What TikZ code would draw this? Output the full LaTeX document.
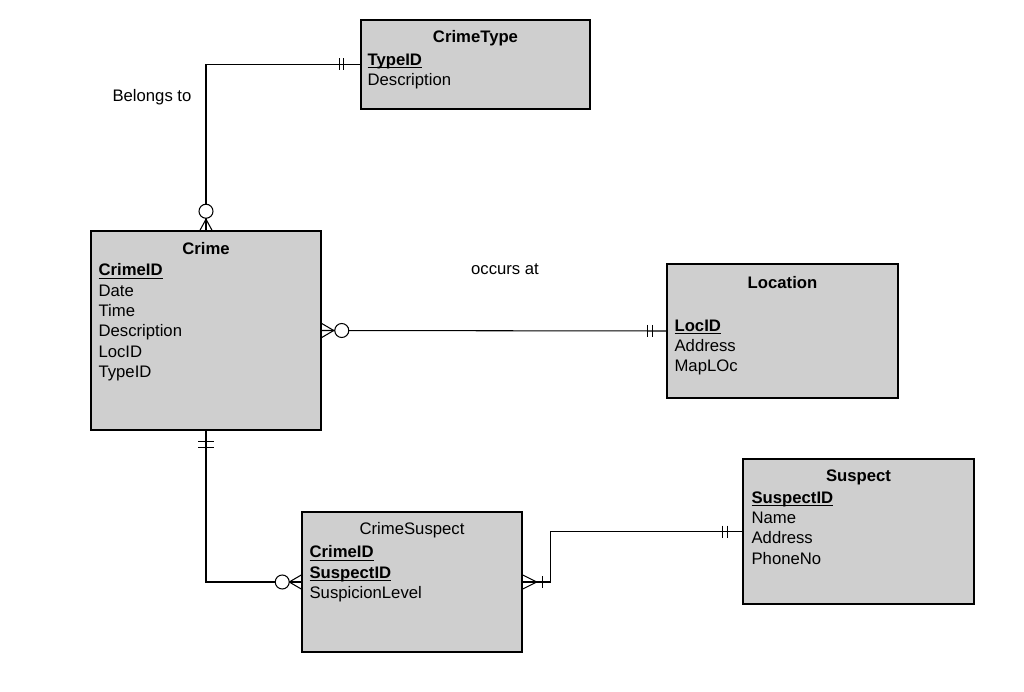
\documentclass[tikz,border=0pt]{standalone}
\usepackage{fontspec}
\setmainfont{Liberation Sans}
\usetikzlibrary{positioning,calc}

\tikzset{
  entity/.style={draw, line width=0.9pt, fill=black!19, inner sep=0pt},
  etitle/.style={inner sep=0pt, font=\fontsize{9.5}{11.6}\selectfont\bfseries},
  attrs/.style={anchor=north west, inner sep=0pt, align=left, font=\fontsize{9.5}{11.6}\selectfont},
  rel/.style={line width=0.6pt},
  lbl/.style={inner sep=0pt, font=\fontsize{9.5}{11.6}\selectfont},
}
\newcommand{\ekey}[1]{\underline{\raisebox{0pt}[\height][0pt]{\textbf{#1}}}}

\begin{document}
\begin{tikzpicture}[x=0.02cm,y=-0.02cm]
\useasboundingbox (0,0) rectangle (1024,692);
% entities
\node[entity, minimum width=4.58cm, minimum height=1.78cm] (crimetype) at (475.5,64.5) {};
\node[etitle] at ([shift={(0,19)}]crimetype.north) {CrimeType};
\node[attrs] at ([shift={(7,34)}]crimetype.north west) {\ekey{TypeID}\\Description};

\node[entity, minimum width=4.60cm, minimum height=3.98cm] (crime) at (206,330.5) {};
\node[etitle] at ([shift={(0,18)}]crime.north) {Crime};
\node[attrs] at ([shift={(8,33)}]crime.north west) {\ekey{CrimeID}\\Date\\Time\\Description\\LocID\\TypeID};

\node[entity, minimum width=4.62cm, minimum height=2.68cm] (location) at (782.5,331) {};
\node[etitle] at ([shift={(0,19)}]location.north) {Location};
\node[attrs] at ([shift={(8,56)}]location.north west) {\ekey{LocID}\\Address\\MapLOc};

\node[entity, minimum width=4.62cm, minimum height=2.90cm] (suspect) at (858.5,531.5) {};
\node[etitle] at ([shift={(0,19)}]suspect.north) {Suspect};
\node[attrs] at ([shift={(9,33)}]suspect.north west) {\ekey{SuspectID}\\Name\\Address\\PhoneNo};

\node[entity, minimum width=4.40cm, minimum height=2.80cm] (crimesuspect) at (412,582) {};
\node[etitle, font=\fontsize{9.5}{11.6}\selectfont] at ([shift={(0,19)}]crimesuspect.north) {CrimeSuspect};
\node[attrs] at ([shift={(8,34)}]crimesuspect.north west) {\ekey{CrimeID}\\\ekey{SuspectID}\\SuspicionLevel};

% relationship labels
\node[lbl] (belongs) at (152,97) {Belongs to};
\node[lbl] (occurs) at (505,269) {occurs at};

% crime -- crimetype
\draw[rel] (crime.north) |- (crimetype.west);
\foreach \d in {-21,-17}
  \draw[rel] ([shift={(\d,-6)}]crimetype.west) -- ([shift={(\d,6)}]crimetype.west);
\draw[rel] ([shift={(-6,0)}]crime.north) -- ([shift={(0,-11)}]crime.north) -- ([shift={(6,0)}]crime.north);
\draw[rel, fill=white] ([shift={(0,-19)}]crime.north) circle (0.14cm);

% crime -- location
\draw[rel] (crime.east) -- (location.west);
\draw[rel] ([shift={(0,-7)}]crime.east) -- ([shift={(12,0)}]crime.east) -- ([shift={(0,7)}]crime.east);
\draw[rel, fill=white] ([shift={(20,0)}]crime.east) circle (0.14cm);
\foreach \d in {-19,-14}
  \draw[rel] ([shift={(\d,-6)}]location.west) -- ([shift={(\d,6)}]location.west);

% crime -- crimesuspect
\draw[rel] (crime.south) |- (crimesuspect.west);
\foreach \d in {11,17}
  \draw[rel] ([shift={(-8,\d)}]crime.south) -- ([shift={(8,\d)}]crime.south);
\draw[rel] ([shift={(0,-7)}]crimesuspect.west) -- ([shift={(-12,0)}]crimesuspect.west) -- ([shift={(0,7)}]crimesuspect.west);
\draw[rel, fill=white] ([shift={(-19,0)}]crimesuspect.west) circle (0.14cm);

% crimesuspect -- suspect
\coordinate (bend) at ([shift={(28,0)}]crimesuspect.east);
\draw[rel] (crimesuspect.east) -- (bend) |- (suspect.west);
\draw[rel] ([shift={(0,-7)}]crimesuspect.east) -- ([shift={(14,0)}]crimesuspect.east) -- ([shift={(0,7)}]crimesuspect.east);
\draw[rel] ([shift={(20,-6)}]crimesuspect.east) -- ([shift={(20,6)}]crimesuspect.east);
\foreach \d in {-20,-15}
  \draw[rel] ([shift={(\d,-6)}]suspect.west) -- ([shift={(\d,6)}]suspect.west);
\end{tikzpicture}
\end{document}
